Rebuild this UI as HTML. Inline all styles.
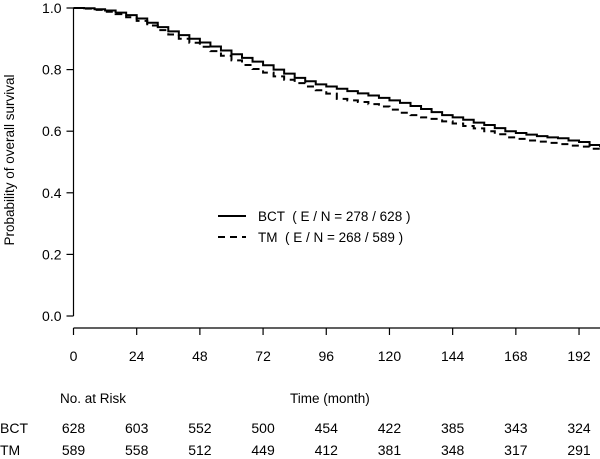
<!DOCTYPE html>
<html><head><meta charset="utf-8"><style>
html,body{margin:0;padding:0;background:#fff;}
svg{display:block;font-family:"Liberation Sans",Arial,sans-serif;}
text{white-space:pre;}
</style></head><body>
<svg id="chart" width="600" height="459" viewBox="0 0 600 459"></svg>
<script>
const months=[0,4,8,12,16,20,24,28,32,36,40,44,48,52,56,60,64,68,72,76,80,84,88,92,96,100,104,108,112,116,120,124,128,132,136,140,144,148,152,156,160,164,168,172,176,180,184,188,192,196,200];
const bctSurv=[1.0,0.999,0.996,0.992,0.985,0.977,0.966,0.952,0.938,0.924,0.912,0.900,0.888,0.875,0.862,0.850,0.838,0.826,0.814,0.800,0.787,0.773,0.762,0.752,0.745,0.738,0.730,0.723,0.716,0.708,0.700,0.692,0.682,0.672,0.662,0.652,0.645,0.637,0.628,0.620,0.610,0.600,0.594,0.589,0.584,0.580,0.577,0.570,0.565,0.555,0.548];
const tmSurv=[1.0,0.998,0.994,0.988,0.980,0.970,0.958,0.943,0.928,0.914,0.900,0.887,0.874,0.860,0.845,0.830,0.815,0.802,0.790,0.778,0.767,0.756,0.745,0.733,0.722,0.705,0.700,0.695,0.688,0.680,0.670,0.660,0.652,0.645,0.640,0.632,0.625,0.617,0.609,0.600,0.590,0.580,0.575,0.570,0.566,0.562,0.558,0.553,0.550,0.543,0.535];
const xTicks=[0,24,48,72,96,120,144,168,192];
const yTicks=[0.0,0.2,0.4,0.6,0.8,1.0];
const bctRisk=[628,603,552,500,454,422,385,343,324];
const tmRisk=[589,558,512,449,412,381,348,317,291];
const legendLabels=["BCT  ( E / N = 278 / 628 )","TM  ( E / N = 268 / 589 )"];

const X0=73.5,PX=2.633,Y1=8,Y0=316;
const sx=m=>X0+m*PX;
const sy=v=>Y0-v*(Y0-Y1);
const svg=document.getElementById('chart');
const NS='http://www.w3.org/2000/svg';
function mk(tag,attrs,parent){const e=document.createElementNS(NS,tag);for(const k in attrs)e.setAttribute(k,attrs[k]);(parent||svg).appendChild(e);return e;}

let e=mk('line',{x1:X0,y1:sy(1),x2:X0,y2:sy(0),stroke:'#000','stroke-width':1.2});


yTicks.forEach(v=>{
  let t=mk('line',{x1:X0-7,y1:sy(v),x2:X0,y2:sy(v),stroke:'#000','stroke-width':1.2});
  
  
  let l=mk('text',{x:X0-12,y:sy(v)+5,'text-anchor':'end','font-size':14});
  l.textContent=v.toFixed(1);
  
  
});
e=mk('text',{x:0,y:0,transform:'translate(14,160) rotate(-90)','text-anchor':'middle','font-size':13.5});
e.textContent='Probability of overall survival';



const XA=328;
e=mk('line',{x1:X0,y1:XA,x2:600,y2:XA,stroke:'#000','stroke-width':1.2});


xTicks.forEach((m,i)=>{
  let t=mk('line',{x1:sx(m),y1:XA,x2:sx(m),y2:XA+7,stroke:'#000','stroke-width':1.2});
  
  
  let l=mk('text',{x:sx(m),y:361,'text-anchor':'middle','font-size':14});
  l.textContent=m;
  
  
  let b=mk('text',{x:sx(m),y:433,'text-anchor':'middle','font-size':14});
  b.textContent=bctRisk[i];
  
  
  let c=mk('text',{x:sx(m),y:455,'text-anchor':'middle','font-size':14});
  c.textContent=tmRisk[i];
  
  
});
e=mk('text',{x:60,y:403,'font-size':13.5});e.textContent='No. at Risk';


e=mk('text',{x:290,y:403,'font-size':13.5});e.textContent='Time (month)';


e=mk('text',{x:0,y:433,'font-size':14});e.textContent='BCT';


e=mk('text',{x:0,y:455,'font-size':14});e.textContent='TM';



function stepPath(vals){
  let d='M'+sx(months[0])+','+sy(vals[0]);
  for(let i=1;i<months.length;i++){d+=' H'+sx(months[i])+' V'+sy(vals[i]);}
  return d;
}
e=mk('path',{d:stepPath(tmSurv),fill:'none',stroke:'#000','stroke-width':2,'stroke-dasharray':'7,5'});


e=mk('path',{d:stepPath(bctSurv),fill:'none',stroke:'#000','stroke-width':2});



e=mk('line',{x1:218,y1:216,x2:246,y2:216,stroke:'#000','stroke-width':2});


e=mk('text',{x:258,y:221,'font-size':13.5});e.textContent=legendLabels[0];


e=mk('line',{x1:218,y1:237,x2:246,y2:237,stroke:'#000','stroke-width':2,'stroke-dasharray':'7,5'});


e=mk('text',{x:258,y:242,'font-size':13.5});e.textContent=legendLabels[1];


</script>
</body></html>
